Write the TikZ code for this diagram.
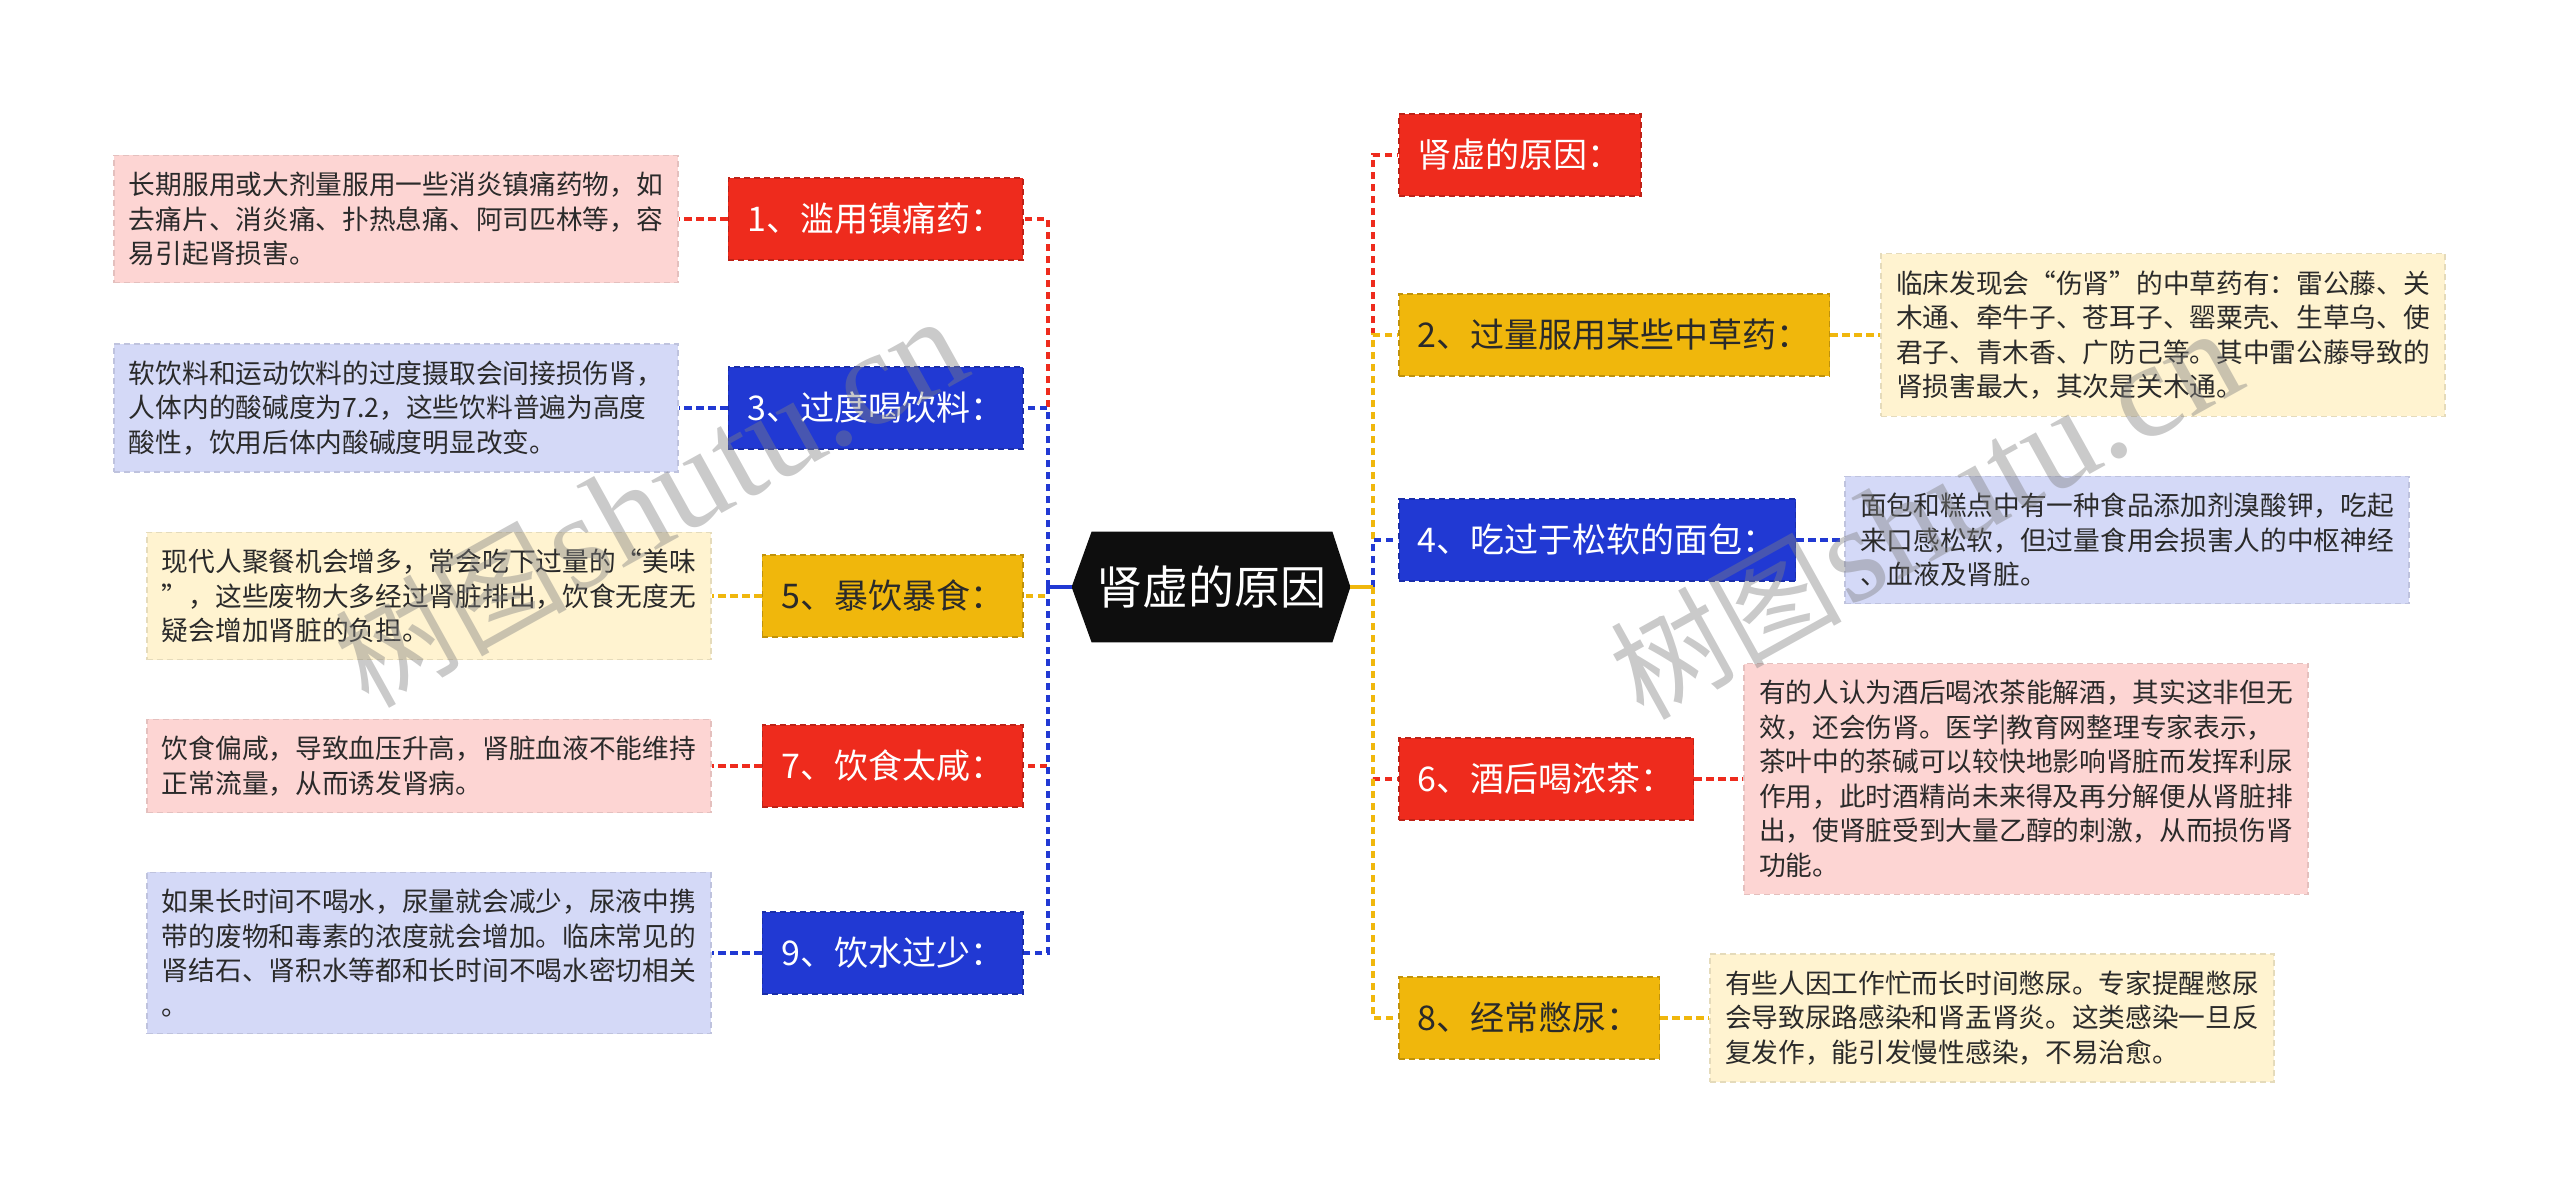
\documentclass[tikz,border=0pt]{standalone}
\usepackage{fontspec}
\setmainfont{Noto Sans CJK SC}
\newfontfamily\wmserif{Liberation Serif}
\usetikzlibrary{backgrounds}
\definecolor{cred}{HTML}{EE2B1D}
\definecolor{cblue}{HTML}{2139D3}
\definecolor{cyel}{HTML}{F0B70C}
\definecolor{tpink}{HTML}{FDD5D3}
\definecolor{tblue}{HTML}{D4D9F7}
\definecolor{tyel}{HTML}{FFF3D0}
\definecolor{ctext}{HTML}{2A2A2A}
\definecolor{croot}{HTML}{0E0E0E}
\tikzset{
  mainbox/.style={fill=#1, draw=#1!80!black, dash pattern=on 3pt off 2pt, line width=0.8pt,
    minimum height=41pt, inner xsep=9.5pt, inner ysep=0pt,
    font=\fontsize{17}{20}\selectfont, text=white},
  darkbox/.style={mainbox=#1, text=ctext},
  textbox/.style={fill=#1, draw=#1!90!black, dash pattern=on 3pt off 2pt, line width=0.6pt,
    text width=267pt, inner xsep=7.5pt, inner ysep=8.4pt, align=left,
    font=\fontsize{13.35}{17.25}\selectfont, text=ctext},
  link/.style={draw=#1, line width=1.65pt, dash pattern=on 3.6pt off 2.4pt},
  solidlink/.style={draw=#1, line width=1.65pt},
  rootnode/.style={minimum width=139pt, minimum height=55pt, inner sep=0pt,
    font=\fontsize{23}{26}\selectfont, text=white},
  watermark/.style={text=gray, opacity=0.42, inner sep=0pt}
}
\begin{document}
\begin{tikzpicture}[x=0.5pt, y=-0.5pt]
\useasboundingbox (0,0) rectangle (2560,1199);

% root
\node[rootnode] (root) at (1211,587) {肾虚的原因};
\begin{scope}[on background layer]
\fill[croot] (root.west) -- ([xshift=10pt]root.north west) -- ([xshift=-9pt]root.north east)
  -- (root.east) -- ([xshift=-9pt]root.south east) -- ([xshift=10pt]root.south west) -- cycle;
\end{scope}
\coordinate (jl) at (1048,587);
\coordinate (jr) at (1373,587);

% left main nodes
\node[mainbox=cred, anchor=east] (n1) at (1024,219) {1、滥用镇痛药：};
\node[mainbox=cblue, anchor=east] (n3) at (1024,408) {3、过度喝饮料：};
\node[darkbox=cyel, anchor=east] (n5) at (1024,596) {5、暴饮暴食：};
\node[mainbox=cred, anchor=east] (n7) at (1024,766) {7、饮食太咸：};
\node[mainbox=cblue, anchor=east] (n9) at (1024,953) {9、饮水过少：};

% right main nodes
\node[mainbox=cred, anchor=west] (r0) at (1398,155) {肾虚的原因：};
\node[darkbox=cyel, anchor=west] (r2) at (1398,335) {2、过量服用某些中草药：};
\node[mainbox=cblue, anchor=west] (r4) at (1398,540) {4、吃过于松软的面包：};
\node[mainbox=cred, anchor=west] (r6) at (1398,779) {6、酒后喝浓茶：};
\node[darkbox=cyel, anchor=west] (r8) at (1398,1018) {8、经常憋尿：};

% left text boxes
\node[textbox=tpink, anchor=east] (t1) at ([xshift=-24.5pt]n1.west)
 {长期服用或大剂量服用一些消炎镇痛药物，如\\去痛片、消炎痛、扑热息痛、阿司匹林等，容\\易引起肾损害。};
\node[textbox=tblue, anchor=east] (t3) at ([xshift=-24.5pt]n3.west)
 {软饮料和运动饮料的过度摄取会间接损伤肾，\\人体内的酸碱度为7.2，这些饮料普遍为高度\\酸性，饮用后体内酸碱度明显改变。};
\node[textbox=tyel, anchor=east] (t5) at ([xshift=-25pt]n5.west)
 {现代人聚餐机会增多，常会吃下过量的“美味\\”，这些废物大多经过肾脏排出，饮食无度无\\疑会增加肾脏的负担。};
\node[textbox=tpink, anchor=east] (t7) at ([xshift=-25pt]n7.west)
 {饮食偏咸，导致血压升高，肾脏血液不能维持\\正常流量，从而诱发肾病。};
\node[textbox=tblue, anchor=east] (t9) at ([xshift=-25pt]n9.west)
 {如果长时间不喝水，尿量就会减少，尿液中携\\带的废物和毒素的浓度就会增加。临床常见的\\肾结石、肾积水等都和长时间不喝水密切相关\\。};

% right text boxes
\node[textbox=tyel, anchor=west] (t2) at ([xshift=25pt]r2.east)
 {临床发现会“伤肾”的中草药有：雷公藤、关\\木通、牵牛子、苍耳子、罂粟壳、生草乌、使\\君子、青木香、广防己等。其中雷公藤导致的\\肾损害最大，其次是关木通。};
\node[textbox=tblue, anchor=west] (t4) at ([xshift=24pt]r4.east)
 {面包和糕点中有一种食品添加剂溴酸钾，吃起\\来口感松软，但过量食用会损害人的中枢神经\\、血液及肾脏。};
\node[textbox=tpink, anchor=west] (t6) at ([xshift=24.5pt]r6.east)
 {有的人认为酒后喝浓茶能解酒，其实这非但无\\效，还会伤肾。医学|教育网整理专家表示，\\茶叶中的茶碱可以较快地影响肾脏而发挥利尿\\作用，此时酒精尚未来得及再分解便从肾脏排\\出，使肾脏受到大量乙醇的刺激，从而损伤肾\\功能。};
\node[textbox=tyel, anchor=west] (t8) at ([xshift=24.5pt]r8.east)
 {有些人因工作忙而长时间憋尿。专家提醒憋尿\\会导致尿路感染和肾盂肾炎。这类感染一旦反\\复发作，能引发慢性感染，不易治愈。};

% connectors main -> text
\draw[link=cred] (n1.west) -- (t1.east);
\draw[link=cblue] (n3.west) -- (t3.east);
\draw[link=cyel] (n5.west) -- (t5.east);
\draw[link=cred] (n7.west) -- (t7.east);
\draw[link=cblue] (n9.west) -- (t9.east);
\draw[link=cyel] (r2.east) -- (t2.west);
\draw[link=cblue] (r4.east) -- (t4.west);
\draw[link=cred] (r6.east) -- (t6.west);
\draw[link=cyel] (r8.east) -- (t8.west);

% root -> main (left)
\draw[link=cred] (jl) |- (n1.east);
\draw[link=cblue] (jl) |- (n3.east);
\draw[link=cyel] (jl) |- (n5.east);
\draw[link=cred] (jl) |- (n7.east);
\draw[link=cblue] (jl) |- (n9.east);
% root -> main (right)
\draw[link=cred] (jr) |- (r0.west);
\draw[link=cyel] (jr) |- (r2.west);
\draw[link=cblue] (jr) |- (r4.west);
\draw[link=cred] (jr) |- (r6.west);
\draw[link=cyel] (jr) |- (r8.west);

\draw[solidlink=cblue] (root.west) -- (jl);
\draw[solidlink=cyel] (root.east) -- (jr);

% watermarks
\node[watermark, rotate=29] (wm1) at (650,503)
 {{\fontsize{58}{58}\selectfont 树图} {\wmserif\fontsize{68}{68}\selectfont shutu.cn}};
\node[watermark, rotate=29] (wm2) at (1925,515)
 {{\fontsize{58}{58}\selectfont 树图} {\wmserif\fontsize{68}{68}\selectfont shutu.cn}};
\end{tikzpicture}
\end{document}
